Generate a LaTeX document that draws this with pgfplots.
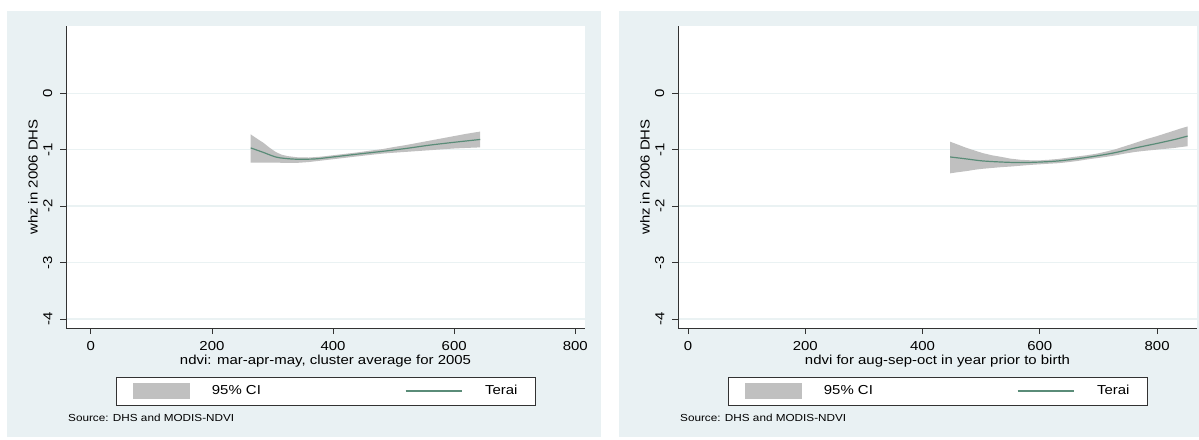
\documentclass[border=0pt]{standalone}
\usepackage{pgfplots}
\pgfplotsset{compat=1.18}
\usepackage{fontspec}
\setmainfont{Liberation Sans}[FakeStretch=1.15]
\definecolor{bgblue}{RGB}{233,241,243}
\definecolor{gridc}{RGB}{234,242,243}
\definecolor{bandgray}{RGB}{192,192,192}
\definecolor{teraic}{RGB}{90,140,120}
\definecolor{axc}{RGB}{50,50,50}
\newcommand{\mfont}{\fontsize{13}{15.5}\selectfont}
\pgfplotsset{
  stpanel/.style={
    scale only axis, width=519pt, height=302pt,
    anchor=south west,
    axis background/.style={fill=white},
    axis x line*=bottom, axis y line*=left,
    axis line style={axc, line width=0.9pt},
    tick align=outside, major tick length=6pt,
    tick style={axc, line width=0.9pt},
    ymin=-4.16, ymax=1.19,
    ytick={-4,-3,-2,-1,0}, yticklabels={-4,-3,-2,-1,0},
    xtick={0,200,400,600,800}, xticklabels={0,200,400,600,800},
    ymajorgrids, major grid style={gridc, line width=1.3pt},
    yticklabel style={rotate=90, anchor=south, inner sep=0pt, font=\mfont},
    xticklabel style={anchor=north, inner sep=0pt, font=\mfont},
    xticklabel shift=7.5pt, yticklabel shift=7.5pt,
    ylabel={whz in 2006 DHS},
    ylabel style={at={(axis description cs:-0.0636,0.5)}, anchor=center, inner sep=0pt, font=\mfont},
    xlabel style={at={(axis description cs:0.5,-0.109)}, anchor=center, inner sep=0pt, font=\mfont},
    clip=false,
    legend columns=2,
    legend style={at={(axis description cs:0.5,-0.2086)}, anchor=center,
      draw=axc, line width=0.8pt, fill=white, inner xsep=17pt, inner ysep=6pt,
      column sep=0pt, row sep=0pt,
      nodes={inner sep=0pt, font=\mfont}},
  },
  bandleg/.style={legend image code/.code={\fill[bandgray,draw=none] (0pt,-8pt) rectangle (57pt,8pt);}},
  lineleg/.style={legend image code/.code={\draw[teraic,line width=1.2pt] (0pt,0pt) -- (56pt,0pt);}},
}
\begin{document}
\begin{tikzpicture}
\fill[white] (0pt,0pt) rectangle (1199pt,439pt);
\fill[bgblue] (7pt,2pt) rectangle (601pt,428pt);
\fill[bgblue] (619pt,2pt) rectangle (1199pt,428pt);

\begin{axis}[stpanel, at={(66pt,111pt)}, xmin=-41, xmax=816,
  xlabel={ndvi: mar-apr-may, cluster average for 2005}]
\addplot[bandgray, fill=bandgray, draw=none, bandleg] coordinates {
(264,-0.73) (275,-0.81) (285,-0.88) (295,-0.965) (305,-1.04) (315,-1.09) (325,-1.115) (340,-1.135) (360,-1.14) (380,-1.125) (400,-1.10) (420,-1.075) (440,-1.05) (460,-1.02) (482,-0.99) (500,-0.955) (520,-0.92) (540,-0.88) (560,-0.84) (580,-0.80) (600,-0.76) (620,-0.72) (643,-0.68)
(643,-0.96) (620,-0.97) (600,-0.98) (580,-0.995) (560,-1.01) (540,-1.025) (520,-1.04) (500,-1.055) (482,-1.07) (460,-1.095) (440,-1.12) (420,-1.145) (400,-1.17) (380,-1.195) (360,-1.22) (340,-1.235) (320,-1.235) (305,-1.23) (285,-1.23) (264,-1.23)
} -- cycle;
\addlegendentry{\makebox[215pt][l]{\hspace*{22pt}95\% CI}}
\addplot[teraic, line width=1.2pt, smooth, lineleg] coordinates {
(264,-0.97) (285,-1.05) (305,-1.13) (320,-1.155) (340,-1.17) (370,-1.165) (400,-1.13) (440,-1.08) (482,-1.03) (520,-0.98) (560,-0.92) (600,-0.87) (643,-0.82)
};
\addlegendentry{\makebox[56pt][l]{\hspace*{23pt}Terai}}
\end{axis}

\begin{axis}[stpanel, at={(678pt,111pt)}, xmin=-17, xmax=868,
  xlabel={ndvi for aug-sep-oct in year prior to birth}]
\addplot[bandgray, fill=bandgray, draw=none, bandleg] coordinates {
(447,-0.86) (460,-0.91) (475,-0.97) (490,-1.02) (502,-1.06) (518,-1.10) (535,-1.13) (550,-1.16) (567,-1.18) (585,-1.19) (600,-1.19) (615,-1.18) (632,-1.165) (650,-1.14) (665,-1.12) (680,-1.10) (698,-1.07) (715,-1.03) (730,-0.99) (745,-0.94) (763,-0.88) (780,-0.82) (800,-0.76) (815,-0.71) (830,-0.66) (842,-0.62) (852,-0.59)
(852,-0.94) (840,-0.955) (830,-0.97) (815,-0.985) (800,-1.00) (780,-1.02) (763,-1.04) (745,-1.07) (730,-1.10) (715,-1.125) (698,-1.15) (680,-1.175) (665,-1.20) (650,-1.22) (632,-1.24) (615,-1.25) (600,-1.26) (585,-1.27) (567,-1.285) (550,-1.30) (535,-1.31) (518,-1.325) (502,-1.34) (490,-1.355) (475,-1.38) (460,-1.40) (447,-1.42)
} -- cycle;
\addlegendentry{\makebox[215pt][l]{\hspace*{22pt}95\% CI}}
\addplot[teraic, line width=1.2pt, smooth, lineleg] coordinates {
(447,-1.13) (475,-1.165) (502,-1.20) (535,-1.22) (567,-1.23) (600,-1.22) (632,-1.20) (665,-1.16) (698,-1.11) (730,-1.05) (763,-0.97) (800,-0.89) (830,-0.82) (852,-0.76)
};
\addlegendentry{\makebox[56pt][l]{\hspace*{23pt}Terai}}
\end{axis}

\node[anchor=west, inner sep=0pt, font=\fontsize{10.2}{12}\selectfont] at (68pt,21pt) {Source: DHS and MODIS-NDVI};
\node[anchor=west, inner sep=0pt, font=\fontsize{10.2}{12}\selectfont] at (680pt,21pt) {Source: DHS and MODIS-NDVI};
\end{tikzpicture}
\end{document}
